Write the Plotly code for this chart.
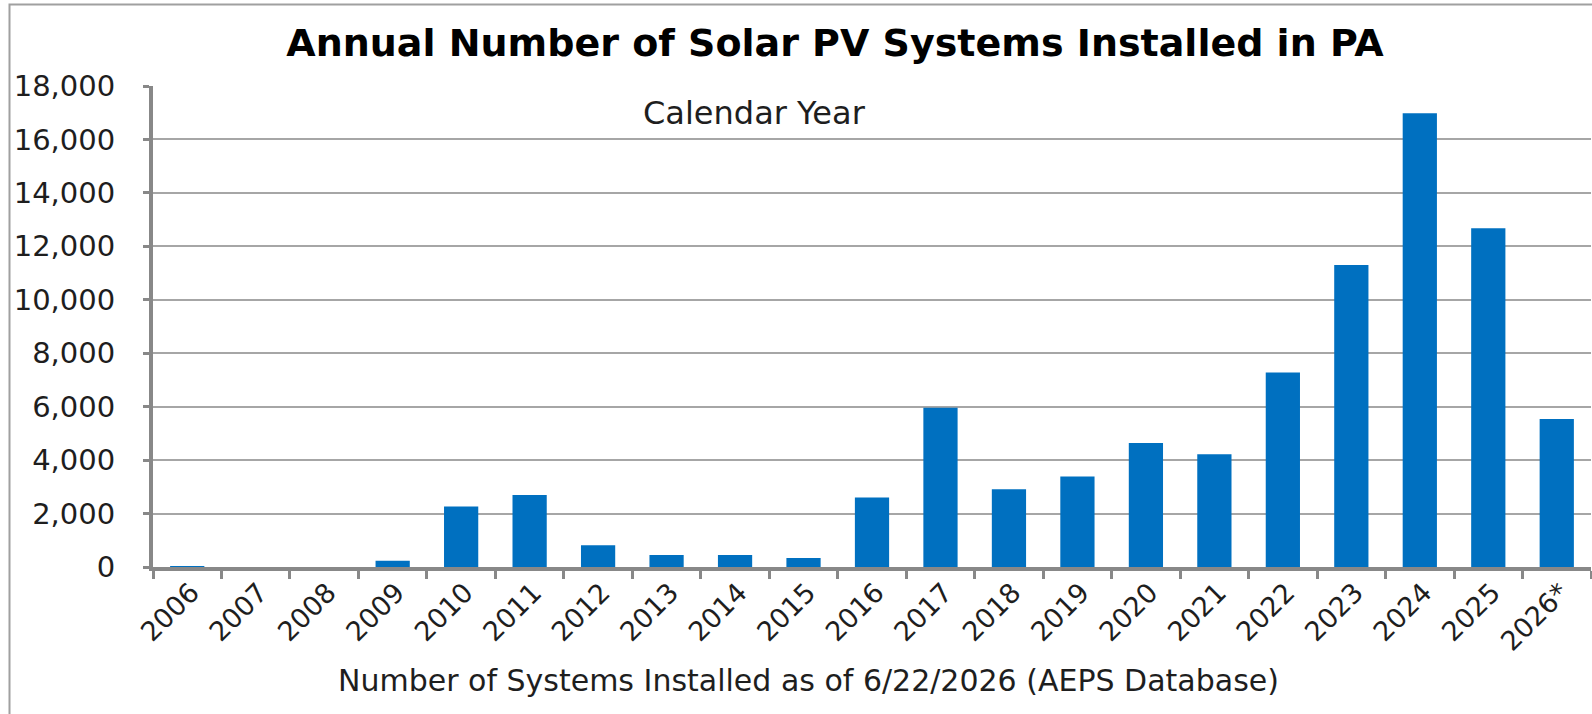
import plotly.graph_objects as go

years = ["2006", "2007", "2008", "2009", "2010", "2011", "2012", "2013", "2014", "2015",
         "2016", "2017", "2018", "2019", "2020", "2021", "2022", "2023", "2024", "2025", "2026*"]
systems = [20, 0, 0, 230, 2260, 2690, 810, 450, 450, 340,
           2600, 5960, 2910, 3390, 4640, 4220, 7280, 11300, 16980, 12680, 5540]
y_ticks = [0, 2000, 4000, 6000, 8000, 10000, 12000, 14000, 16000, 18000]

W, H = 1592, 714
# plot area in page pixels: x 153..1591, y 86..567
L, T = 153, 86
R = W - 1591
B = H - 567
pw, ph = W - L - R, H - T - B

def px_x(p):
    return (p - L) / pw

def px_y(p):
    return (H - B - p) / ph

FONT = "DejaVu Sans"
TXT = "#1e1e1e"

fig = go.Figure(go.Bar(x=years, y=systems, marker=dict(color="#0070C0", line=dict(width=0))))

fig.update_layout(
    width=W, height=H,
    margin=dict(l=L, r=R, t=T, b=B, autoexpand=False),
    paper_bgcolor="white", plot_bgcolor="white",
    bargap=0.5,
    showlegend=False,
    title=dict(text="<b>Annual Number of Solar PV Systems Installed in PA</b>",
               x=835 / W, xanchor="center", y=1 - 43 / H, yanchor="middle",
               xref="container", yref="container",
               font=dict(family=FONT, size=38, color="#000")),
    font=dict(family=FONT, color=TXT),
    xaxis=dict(type="category", range=[-0.5, 20.5], tickangle=-45,
               tickson="boundaries", ticks="outside", ticklen=8, tickwidth=3, tickcolor="#888",
               showline=True, linecolor="#888", linewidth=4, showgrid=False,
               tickfont=dict(family=FONT, size=27, color=TXT),
               ticklabelstandoff=-5, ticklabelshift=4),
    yaxis=dict(range=[0, 18000], tickvals=y_ticks, tickformat=",",
               ticks="outside", ticklen=6, tickwidth=3, tickcolor="#888",
               showline=True, linecolor="#888", linewidth=4,
               showgrid=True, gridcolor="#A6A6A6", gridwidth=2, zeroline=False,
               tickfont=dict(family=FONT, size=29, color=TXT), ticklabelstandoff=22),
    annotations=[
        dict(text="Calendar Year", x=px_x(754), y=px_y(113), xref="paper", yref="paper",
             showarrow=False, xanchor="center", yanchor="middle",
             font=dict(family=FONT, size=32, color=TXT)),
        dict(text="Number of Systems Installed as of 6/22/2026 (AEPS Database)",
             x=px_x(808), y=px_y(680), xref="paper", yref="paper",
             showarrow=False, xanchor="center", yanchor="middle",
             font=dict(family=FONT, size=30, color=TXT)),
    ],
    shapes=[
        dict(type="rect", xref="paper", yref="paper",
             x0=px_x(9.5), x1=px_x(1660), y0=px_y(780), y1=px_y(4.5),
             line=dict(color="#A0A0A0", width=2), fillcolor="rgba(0,0,0,0)", layer="below"),
    ],
)

fig.write_html("out.html",
               config={"displayModeBar": False},
               post_script="document.body.style.margin='0';document.body.style.overflow='hidden';")
